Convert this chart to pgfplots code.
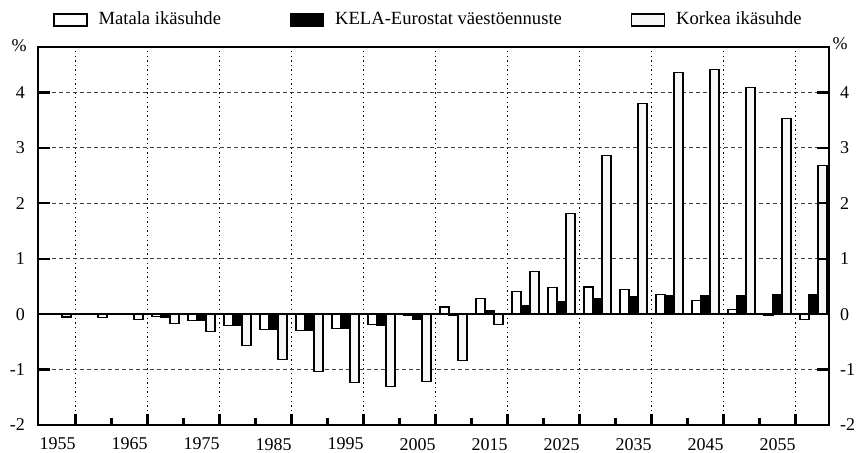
\documentclass[border=0pt]{standalone}
\usepackage{fontspec}
\setmainfont{Liberation Serif}
\usepackage{pgfplots}
\usepackage{pgfplotstable}
\pgfplotsset{compat=1.18}
\pgfplotsset{boxlegend/.style={legend image code/.code={\draw[##1] (0pt,-3pt) rectangle (16.5pt,3pt);}}}
\pgfplotsset{sideaxis/.style={
  at={(19pt,14pt)}, anchor=south west,
  width=395.5pt, height=189pt, scale only axis,
  xmin=1952.29, xmax=2062.15, ymin=-2, ymax=4.82,
  axis x line=none,
  y axis line style={draw=none},
  ytick={-2,-1,0,1,2,3,4},
  tick align=inside,
  major tick length=6pt,
  every tick/.style={line width=1.2pt, black}}}
\pgfplotstableread{
year low kela high
1955 0 0 -0.05
1960 -0.01 0 -0.06
1965 -0.01 0 -0.10
1970 -0.04 -0.06 -0.17
1975 -0.11 -0.12 -0.32
1980 -0.20 -0.20 -0.57
1985 -0.28 -0.28 -0.82
1990 -0.30 -0.29 -1.04
1995 -0.26 -0.26 -1.23
2000 -0.18 -0.20 -1.31
2005 -0.03 -0.10 -1.21
2010 0.13 -0.03 -0.83
2015 0.28 0.07 -0.18
2020 0.41 0.15 0.77
2025 0.48 0.22 1.82
2030 0.49 0.28 2.86
2035 0.44 0.31 3.80
2040 0.35 0.34 4.36
2045 0.24 0.34 4.41
2050 0.09 0.34 4.09
2055 -0.02 0.35 3.53
2060 -0.10 0.35 2.68
}\data
\begin{document}
\begin{tikzpicture}[font=\fontsize{9}{10}\selectfont]
\path[use as bounding box] (0,0) rectangle (429.5pt,226.5pt);
\begin{axis}[
  at={(19pt,14pt)}, anchor=south west,
  width=395.5pt, height=189pt, scale only axis,
  xmin=1952.29, xmax=2062.15, ymin=-2, ymax=4.82,
  axis line style={line width=1pt},
  xtick={1957.5,1967.5,1977.5,1987.5,1997.5,2007.5,2017.5,2027.5,2037.5,2047.5,2057.5},
  xticklabels={1955,1965,1975,1985,1995,2005,2015,2025,2035,2045,2055},
  xticklabel style={xshift=-9pt, yshift=-3pt},
  minor xtick={1962.5,1972.5,1982.5,1992.5,2002.5,2012.5,2022.5,2032.5,2042.5,2052.5},
  xtick pos=left,
  ytick={-2,-1,0,1,2,3,4},
  yticklabels={-2,-1,0,1,2,3,4},
  ytick pos=left,
  yticklabel pos=left,
  yticklabel style={xshift=-3pt},
  tick align=inside,
  major tick length=5.5pt, minor tick length=3.5pt,
  every tick/.style={line width=1.1pt, black},
  xmajorgrids, ymajorgrids,
  x grid style={black, line width=0.7pt, dash pattern=on 0.7pt off 1.6pt},
  y grid style={black!75, line width=0.5pt, dash pattern=on 2pt off 1.5pt},
  legend style={at={(axis description cs:0,1)}, anchor=west, xshift=7.5pt, yshift=13.5pt,
    draw=none, fill=none, inner sep=0pt,
    font=\fontsize{9.3}{10}\selectfont,
    /tikz/every odd column/.append style={column sep=3.5pt},
    /tikz/every even column/.append style={column sep=32.5pt}},
  legend columns=3,
]
\addplot[ybar, bar width=1.25, bar shift=-1.25, draw=black, line width=0.6pt, fill=white, boxlegend]
  table[x=year, y=low] {\data};
\addlegendentry{Matala ikäsuhde}
\addplot[ybar, bar width=1.25, bar shift=0, draw=black, line width=0.6pt, fill=black, boxlegend]
  table[x=year, y=kela] {\data};
\addlegendentry{KELA-Eurostat väestöennuste}
\addplot[ybar, bar width=1.25, bar shift=1.25, draw=black, line width=0.6pt, fill=gray!6, boxlegend]
  table[x=year, y=high] {\data};
\addlegendentry{Korkea ikäsuhde}
\draw[line width=0.9pt] (axis cs:1952.29,0) -- (axis cs:2062.15,0);
\end{axis}
\begin{axis}[sideaxis, axis y line*=right,
  yticklabels={-2,-1,0,1,2,3,4},
  yticklabel style={xshift=2pt}]
\end{axis}
\begin{axis}[sideaxis, axis y line*=left, yticklabels={}]
\end{axis}
\node at (9.5pt,203.5pt) {\%};
\node at (420pt,204.5pt) {\%};
\end{tikzpicture}
\end{document}
